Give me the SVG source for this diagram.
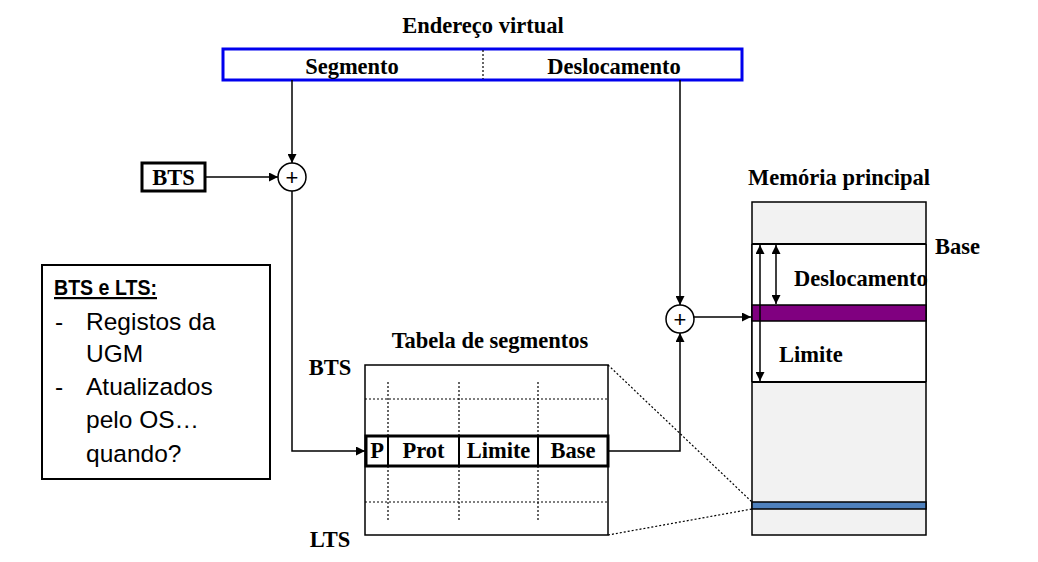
<svg xmlns="http://www.w3.org/2000/svg" width="1038" height="562" viewBox="0 0 1038 562">
<style>
.t{font-family:"Liberation Sans Narrow","Liberation Serif","Times New Roman",serif;font-weight:bold;font-size:22.5px;fill:#000}
.t{font-family:"Liberation Serif","Times New Roman",serif}
.s{font-family:"Liberation Sans",Arial,sans-serif;font-size:24.5px;fill:#000}
.h{font-family:"Liberation Sans",Arial,sans-serif;font-size:22px;font-weight:bold;text-decoration:underline;fill:#000}
.p{font-family:"Liberation Sans",Arial,sans-serif;font-size:22px;fill:#000}
.ln{stroke:#000;stroke-width:1.5;fill:none}
.dot{stroke:#000;stroke-width:1.2;stroke-dasharray:2 2;fill:none}
</style>
<defs>
<marker id="ah" viewBox="0 0 10 10" refX="10" refY="5" markerWidth="9" markerHeight="9" markerUnits="userSpaceOnUse" orient="auto-start-reverse">
<path d="M0,0 L10,5 L0,10 z" fill="#000"/>
</marker>
</defs>
<rect width="1038" height="562" fill="#fff"/>

<g id="virtual-address">
<text class="t" x="483" y="33" text-anchor="middle">Endereço virtual</text>
<rect x="223" y="49" width="519" height="31" fill="#fff" stroke="#0000ee" stroke-width="3"/>
<line x1="483" y1="50" x2="483" y2="79" class="dot"/>
<text class="t" x="352" y="74" text-anchor="middle">Segmento</text>
<text class="t" x="614" y="74" text-anchor="middle">Deslocamento</text>
</g>

<g id="bts-register">
<rect x="142" y="163" width="63" height="28" fill="#fff" stroke="#000" stroke-width="3"/>
<text class="t" x="173.5" y="185" text-anchor="middle">BTS</text>
</g>

<g id="adder1">
<circle cx="292" cy="177" r="14" fill="#fff" stroke="#000" stroke-width="1.5"/>
<text class="p" x="292" y="185" text-anchor="middle">+</text>
</g>

<g id="adder2">
<circle cx="680" cy="319" r="14" fill="#fff" stroke="#000" stroke-width="1.5"/>
<text class="p" x="680" y="327" text-anchor="middle">+</text>
</g>

<g id="note">
<rect x="42" y="265" width="228" height="214" fill="#fff" stroke="#000" stroke-width="2"/>
<text class="h" x="54" y="295" textLength="103" lengthAdjust="spacingAndGlyphs">BTS e LTS:</text>
<text class="s" x="55" y="330">-</text>
<text class="s" x="86" y="330">Registos da</text>
<text class="s" x="86" y="362">UGM</text>
<text class="s" x="55" y="395">-</text>
<text class="s" x="86" y="395">Atualizados</text>
<text class="s" x="86" y="428">pelo OS…</text>
<text class="s" x="86" y="462">quando?</text>
</g>

<g id="segment-table">
<text class="t" x="490" y="348" text-anchor="middle">Tabela de segmentos</text>
<text class="t" x="330" y="375" text-anchor="middle">BTS</text>
<text class="t" x="330" y="547" text-anchor="middle">LTS</text>
<rect x="365" y="365" width="243" height="170" fill="#fff" stroke="#000" stroke-width="1.5"/>
<line x1="365" y1="399" x2="608" y2="399" class="dot"/>
<line x1="365" y1="502" x2="608" y2="502" class="dot"/>
<line x1="388" y1="382" x2="388" y2="520" class="dot"/>
<line x1="459" y1="382" x2="459" y2="520" class="dot"/>
<line x1="538" y1="382" x2="538" y2="520" class="dot"/>
<rect x="366" y="436" width="242" height="30" fill="#fff" stroke="#000" stroke-width="3"/>
<line x1="388" y1="436" x2="388" y2="466" stroke="#000" stroke-width="2"/>
<line x1="459" y1="436" x2="459" y2="466" stroke="#000" stroke-width="2"/>
<line x1="538" y1="436" x2="538" y2="466" stroke="#000" stroke-width="2"/>
<text class="t" x="377" y="458" text-anchor="middle">P</text>
<text class="t" x="423.5" y="458" text-anchor="middle">Prot</text>
<text class="t" x="498.5" y="458" text-anchor="middle">Limite</text>
<text class="t" x="573" y="458" text-anchor="middle">Base</text>
</g>

<g id="main-memory">
<text class="t" x="839" y="185" text-anchor="middle">Memória principal</text>
<rect x="752" y="202" width="174" height="333" fill="#f2f2f2" stroke="#000" stroke-width="1.5"/>
<rect x="752" y="244" width="174" height="138" fill="#fff" stroke="none"/>
<line x1="752" y1="244" x2="926" y2="244" stroke="#000" stroke-width="2"/>
<line x1="752" y1="382" x2="926" y2="382" stroke="#000" stroke-width="2"/>
<line x1="752" y1="244" x2="752" y2="382" stroke="#000" stroke-width="1.5"/>
<line x1="926" y1="244" x2="926" y2="382" stroke="#000" stroke-width="1.5"/>
<rect x="752" y="305" width="174" height="16" fill="#800080" stroke="#000" stroke-width="1.5"/>
<rect x="752" y="502" width="174" height="7" fill="#4f81bd" stroke="#000" stroke-width="1.5"/>
<text class="t" x="935" y="254">Base</text>
<text class="t" x="794" y="286">Deslocamento</text>
<text class="t" x="779" y="362">Limite</text>
</g>

<g id="connectors">
<polyline points="292,80 292,163" class="ln" marker-end="url(#ah)"/>
<polyline points="205,177 278,177" class="ln" marker-end="url(#ah)"/>
<polyline points="292,191 292,451 365,451" class="ln" marker-end="url(#ah)"/>
<polyline points="680,80 680,305" class="ln" marker-end="url(#ah)"/>
<polyline points="694,317 751,317" class="ln" marker-end="url(#ah)"/>
<polyline points="608,451 680,451 680,333" class="ln" marker-end="url(#ah)"/>
<line x1="776" y1="245" x2="776" y2="304" class="ln" marker-start="url(#ah)" marker-end="url(#ah)"/>
<line x1="760" y1="245" x2="760" y2="381" class="ln" marker-start="url(#ah)" marker-end="url(#ah)"/>
<line x1="608" y1="365" x2="752" y2="502" class="dot"/>
<line x1="608" y1="535" x2="752" y2="509" class="dot"/>
</g>
</svg>
